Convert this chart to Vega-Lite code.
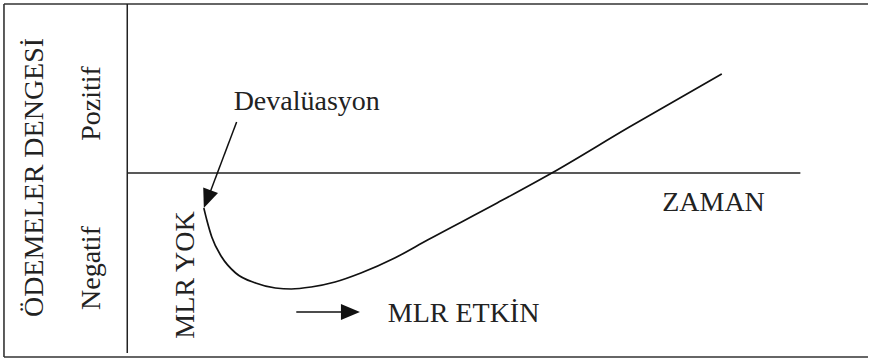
{
  "$schema": "https://vega.github.io/schema/vega-lite/v6.json",
  "width": 869,
  "height": 359,
  "padding": 0,
  "autosize": {"type": "fit", "contains": "padding"},
  "background": "white",
  "config": {"view": {"stroke": null}, "axis": {"disable": true}, "text": {"font": "Liberation Serif"}},
  "datasets": {
    "frame": [
      {"t": -124, "b": 169, "t2": 745, "b2": 169},
      {"t": -124, "b": 169, "t2": -124, "b2": -184},
      {"t": -124, "b": -184, "t2": 745, "b2": -184}
    ],
    "axes": [
      {"t": 0, "b": 169, "t2": 0, "b2": -180},
      {"t": 0, "b": 0, "t2": 677, "b2": 0}
    ],
    "curve": [
      {"t": 77, "b": -35},
      {"t": 80, "b": -47},
      {"t": 85, "b": -64},
      {"t": 95, "b": -84},
      {"t": 109, "b": -100},
      {"t": 129, "b": -110},
      {"t": 149, "b": -115},
      {"t": 165, "b": -116},
      {"t": 185, "b": -114},
      {"t": 209, "b": -109},
      {"t": 235, "b": -100},
      {"t": 269, "b": -85},
      {"t": 302, "b": -67},
      {"t": 372, "b": -30},
      {"t": 427, "b": 0},
      {"t": 505, "b": 46},
      {"t": 598, "b": 99}
    ],
    "arrowLines": [
      {"t": 110, "b": 51, "t2": 80, "b2": -28},
      {"t": 170, "b": -139, "t2": 224, "b2": -139}
    ],
    "headDeval": [{"t": 77, "b": -35}],
    "headMlr": [{"t": 234, "b": -139}],
    "labels": [
      {"t": 107, "b": 63, "text": "Devalüasyon"},
      {"t": 538, "b": -38, "text": "ZAMAN"},
      {"t": 262, "b": -149, "text": "MLR ETKİN"}
    ],
    "vlabels": [
      {"t": -85, "b": -4.5, "text": "ÖDEMELER DENGESİ"},
      {"t": -27, "b": 69.5, "text": "Pozitif"},
      {"t": -27, "b": -95, "text": "Negatif"},
      {"t": 67, "b": -102, "text": "MLR YOK"}
    ]
  },
  "layer": [
    {
      "data": {"name": "frame"},
      "mark": {"type": "rule", "color": "#333333", "strokeWidth": 1.6},
      "encoding": {
        "x": {"field": "t", "type": "quantitative", "scale": {"domain": [-128, 741], "nice": false, "zero": false}, "axis": null},
        "y": {"field": "b", "type": "quantitative", "scale": {"domain": [-186, 173], "nice": false, "zero": false}, "axis": null},
        "x2": {"field": "t2"},
        "y2": {"field": "b2"}
      }
    },
    {
      "data": {"name": "axes"},
      "mark": {"type": "rule", "color": "#222222", "strokeWidth": 1.5},
      "encoding": {
        "x": {"field": "t", "type": "quantitative", "scale": {"domain": [-128, 741], "nice": false, "zero": false}, "axis": null},
        "y": {"field": "b", "type": "quantitative", "scale": {"domain": [-186, 173], "nice": false, "zero": false}, "axis": null},
        "x2": {"field": "t2"},
        "y2": {"field": "b2"}
      }
    },
    {
      "data": {"name": "curve"},
      "mark": {"type": "line", "color": "#111111", "strokeWidth": 1.7, "interpolate": "monotone"},
      "encoding": {
        "x": {"field": "t", "type": "quantitative", "scale": {"domain": [-128, 741], "nice": false, "zero": false}, "axis": null},
        "y": {"field": "b", "type": "quantitative", "scale": {"domain": [-186, 173], "nice": false, "zero": false}, "axis": null},
        "order": {"field": "t", "type": "quantitative"}
      }
    },
    {
      "data": {"name": "arrowLines"},
      "mark": {"type": "rule", "color": "#111111", "strokeWidth": 1.5},
      "encoding": {
        "x": {"field": "t", "type": "quantitative", "scale": {"domain": [-128, 741], "nice": false, "zero": false}, "axis": null},
        "y": {"field": "b", "type": "quantitative", "scale": {"domain": [-186, 173], "nice": false, "zero": false}, "axis": null},
        "x2": {"field": "t2"},
        "y2": {"field": "b2"}
      }
    },
    {
      "data": {"name": "headDeval"},
      "mark": {"type": "point", "shape": "M0,0L1.0,2.4L-1.0,2.4Z", "filled": true, "color": "#111111", "opacity": 1, "size": 250, "angle": 201},
      "encoding": {
        "x": {"field": "t", "type": "quantitative", "scale": {"domain": [-128, 741], "nice": false, "zero": false}, "axis": null},
        "y": {"field": "b", "type": "quantitative", "scale": {"domain": [-186, 173], "nice": false, "zero": false}, "axis": null}
      }
    },
    {
      "data": {"name": "headMlr"},
      "mark": {"type": "point", "shape": "M0,0L1.0,2.4L-1.0,2.4Z", "filled": true, "color": "#111111", "opacity": 1, "size": 250, "angle": 90},
      "encoding": {
        "x": {"field": "t", "type": "quantitative", "scale": {"domain": [-128, 741], "nice": false, "zero": false}, "axis": null},
        "y": {"field": "b", "type": "quantitative", "scale": {"domain": [-186, 173], "nice": false, "zero": false}, "axis": null}
      }
    },
    {
      "data": {"name": "labels"},
      "mark": {"type": "text", "font": "Liberation Serif", "fontSize": 28, "color": "#222222", "align": "left", "baseline": "alphabetic"},
      "encoding": {
        "x": {"field": "t", "type": "quantitative", "scale": {"domain": [-128, 741], "nice": false, "zero": false}, "axis": null},
        "y": {"field": "b", "type": "quantitative", "scale": {"domain": [-186, 173], "nice": false, "zero": false}, "axis": null},
        "text": {"field": "text"}
      }
    },
    {
      "data": {"name": "vlabels"},
      "mark": {"type": "text", "font": "Liberation Serif", "fontSize": 28, "color": "#222222", "align": "center", "baseline": "alphabetic", "angle": 270},
      "encoding": {
        "x": {"field": "t", "type": "quantitative", "scale": {"domain": [-128, 741], "nice": false, "zero": false}, "axis": null},
        "y": {"field": "b", "type": "quantitative", "scale": {"domain": [-186, 173], "nice": false, "zero": false}, "axis": null},
        "text": {"field": "text"}
      }
    }
  ]
}
